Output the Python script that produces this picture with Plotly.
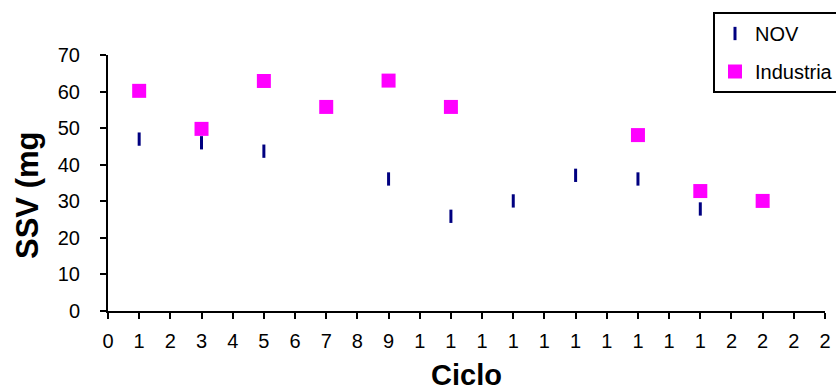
import plotly.graph_objects as go

# ---- data ----
ciclo = [1, 3, 5, 7, 9, 11, 13, 15, 17, 19, 21]
nov = [47, 46, 43.7, None, 36.1, 25.9, 30.1, 37.1, 36.1, 27.9, None]
industria = [60.2, 49.8, 62.9, 55.8, 63, 55.8, None, None, 48.1, 32.8, 30.1]
x_tickvals = list(range(0, 24))
x_ticktext = [str(v)[0] for v in x_tickvals]
y_tickvals = [0, 10, 20, 30, 40, 50, 60, 70]

FONT = "Liberation Sans, Arial, sans-serif"

fig = go.Figure()
fig.add_trace(go.Scatter(
    x=ciclo, y=nov, mode="markers", name="NOV", legendgroup="a",
    marker=dict(symbol="line-ns", size=9.5, color="#000080",
                line=dict(color="#000080", width=3)),
))
fig.add_trace(go.Scatter(
    x=ciclo, y=industria, mode="markers", name="Industria", legendgroup="b",
    marker=dict(symbol="square", size=14, color="#FF00FF",
                line=dict(width=0)),
))

axis_common = dict(showgrid=False, zeroline=False, showline=True,
                   linecolor="black", linewidth=2, tickcolor="black",
                   tickwidth=2, ticklen=6, automargin=False)

fig.update_layout(
    width=836, height=390,
    margin=dict(l=108, r=11, t=55, b=79, autoexpand=False),
    paper_bgcolor="white", plot_bgcolor="white",
    font=dict(family=FONT, size=20, color="black"),
    showlegend=True,
    legend=dict(x=(713 - 108) / 717, y=(311 - 12) / 256,
                xanchor="left", yanchor="top",
                bordercolor="black", borderwidth=2, bgcolor="white",
                font=dict(size=20, family=FONT, color="black"),
                traceorder="grouped", tracegroupgap=9,
                itemsizing="trace"),
    xaxis=dict(range=[0, 23], tickmode="array", tickvals=x_tickvals,
               ticktext=x_ticktext, ticks="outside", ticklabelstandoff=5,
               **axis_common),
    yaxis=dict(range=[0, 70], tickmode="array", tickvals=y_tickvals,
               ticks="outside", ticklabelstandoff=16, **axis_common),
    xaxis2=dict(overlaying="x", matches="x", anchor="y", side="bottom",
                tickmode="array", tickvals=x_tickvals, ticks="inside",
                ticklen=5, showticklabels=False, showgrid=False,
                zeroline=False, showline=False, tickcolor="black", tickwidth=2),
    yaxis2=dict(overlaying="y", matches="y", anchor="x", side="left",
                tickmode="array", tickvals=y_tickvals, ticks="inside",
                ticklen=5, showticklabels=False, showgrid=False,
                zeroline=False, showline=False, tickcolor="black", tickwidth=2),
    annotations=[
        dict(text="<b>SSV (mg</b>", xref="paper", yref="paper",
             x=(27 - 108) / 717, y=(311 - 196) / 256,
             xanchor="center", yanchor="middle",
             textangle=-90, showarrow=False,
             font=dict(size=31, family=FONT, color="black")),
        dict(text="<b>Ciclo</b>", xref="paper", yref="paper",
             x=(466 - 108) / 717, y=(311 - 375) / 256,
             xanchor="center", yanchor="middle",
             showarrow=False, font=dict(size=29, family=FONT, color="black")),
    ],
)

fig.write_html("out.html")
